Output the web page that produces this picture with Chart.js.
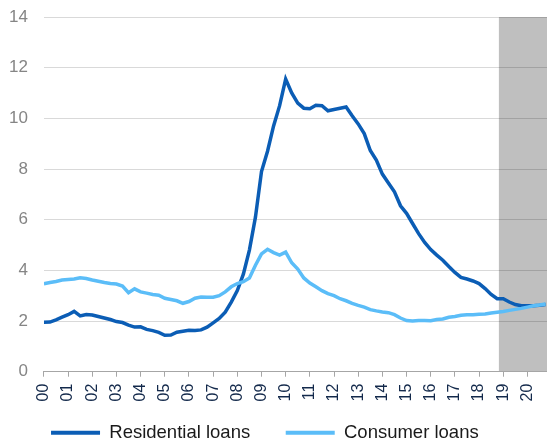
<!DOCTYPE html>
<html>
<head>
<meta charset="utf-8">
<script src="https://cdn.jsdelivr.net/npm/chart.js@4"></script>
<style>
  html, body { margin: 0; padding: 0; background: #fff; }
  #wrap { width: 547px; height: 445px; }
</style>
</head>
<body>
<div id="wrap"><canvas id="loansChart" width="547" height="445"></canvas></div>
<script>
    // quarterly, 2000Q1 onwards
    const startYear = 2000;
    const residentialLoans = [
      1.95, 1.96, 2.05, 2.15, 2.25, 2.38, 2.20, 2.26, 2.24, 2.18,
      2.12, 2.06, 1.98, 1.94, 1.84, 1.76, 1.77, 1.67, 1.62, 1.55,
      1.44, 1.45, 1.56, 1.60, 1.64, 1.63, 1.65, 1.76, 1.93, 2.10,
      2.35, 2.75, 3.20, 3.85, 4.80, 6.10, 7.90, 8.70, 9.70, 10.50,
      11.55, 11.00, 10.60, 10.40, 10.38, 10.52, 10.50, 10.30, 10.35, 10.40,
      10.45, 10.10, 9.78, 9.40, 8.73, 8.35, 7.80, 7.45, 7.10, 6.55,
      6.25, 5.85, 5.45, 5.10, 4.82, 4.60, 4.40, 4.15, 3.92, 3.72,
      3.66, 3.58, 3.48, 3.28, 3.05, 2.88, 2.88, 2.75, 2.65, 2.60,
      2.60, 2.60, 2.62, 2.65
    ];
    const consumerLoans = [
      3.47, 3.52, 3.56, 3.62, 3.64, 3.66, 3.71, 3.68, 3.62, 3.57,
      3.52, 3.48, 3.46, 3.38, 3.12, 3.27, 3.15, 3.10, 3.05, 3.02,
      2.90, 2.85, 2.80, 2.70, 2.77, 2.90, 2.95, 2.94, 2.94, 3.00,
      3.15, 3.35, 3.48, 3.55, 3.70, 4.20, 4.65, 4.83, 4.70, 4.60,
      4.72, 4.30, 4.05, 3.70, 3.50, 3.35, 3.20, 3.08, 3.00, 2.88,
      2.80, 2.70, 2.62, 2.55, 2.45, 2.40, 2.36, 2.33, 2.25, 2.12,
      2.02, 2.00, 2.02, 2.02, 2.01, 2.06, 2.08, 2.15, 2.18, 2.23,
      2.25, 2.25, 2.27, 2.28, 2.32, 2.35, 2.38, 2.42, 2.46, 2.50,
      2.55, 2.60, 2.63, 2.67
    ];
    const yearLabels = ['00', '01', '02', '03', '04', '05', '06', '07', '08', '09', '10',
      '11', '12', '13', '14', '15', '16', '17', '18', '19', '20'];
    const seriesNames = ['Residential loans', 'Consumer loans'];
    const forecastStart = 2018.82;
    const axisEnd = 2020.81;

    const quarters = residentialLoans.map((_, i) => startYear + i / 4);
    const toPoints = vals => vals.map((v, i) => ({ x: quarters[i], y: v }));

    // grey band for the forecast period, behind grid and lines
    const forecastBand = {
      id: 'forecastBand',
      beforeDraw(chart) {
        const { ctx, chartArea, scales } = chart;
        const x0 = scales.x.getPixelForValue(forecastStart);
        const y0 = scales.y.getPixelForValue(14);
        const y1 = scales.y.getPixelForValue(0);
        ctx.save();
        ctx.fillStyle = '#bfbfbf';
        ctx.fillRect(x0, y0, chartArea.right - x0, y1 - y0);
        ctx.restore();
      }
    };

    // trailing spaces just widen the legend items to space them like the original
    const legendPad = ['    ', '  '];

    new Chart(document.getElementById('loansChart').getContext('2d'), {
      type: 'line',
      data: {
        datasets: [
          {
            label: seriesNames[0],
            data: toPoints(residentialLoans),
            borderColor: '#0b5db5',
            backgroundColor: '#0b5db5',
            borderWidth: 3.5,
            pointRadius: 0,
            tension: 0,
            order: 1
          },
          {
            label: seriesNames[1],
            data: toPoints(consumerLoans),
            borderColor: '#5bbdf8',
            backgroundColor: '#5bbdf8',
            borderWidth: 3.5,
            pointRadius: 0,
            tension: 0,
            order: 0
          }
        ]
      },
      options: {
        responsive: false,
        animation: false,
        layout: { padding: { left: -7, top: 0, right: 0, bottom: -7 } },
        scales: {
          x: {
            type: 'linear',
            min: startYear,
            max: axisEnd,
            afterFit(scale) {
              // rotated labels should not push the plot in from the sides
              scale.paddingLeft = 0;
              scale.paddingRight = 0;
            },
            grid: { drawOnChartArea: false, tickLength: 5, tickColor: '#a6a6a6' },
            border: { color: '#a6a6a6', width: 1 },
            ticks: {
              stepSize: 1,
              includeBounds: false,
              autoSkip: false,
              minRotation: 90,
              maxRotation: 90,
              padding: 7,
              color: '#13294b',
              font: { family: 'Liberation Sans', size: 16 },
              callback: v => yearLabels[v - startYear]
            }
          },
          y: {
            min: 0,
            max: 14,
            afterFit(scale) {
              scale.paddingTop = 17;
            },
            grid: { color: 'rgba(0,0,0,0.15)', drawTicks: false },
            border: { display: false },
            ticks: {
              stepSize: 2,
              padding: 16,
              color: '#858585',
              font: { family: 'Liberation Sans', size: 17 }
            }
          }
        },
        plugins: {
          legend: {
            display: true,
            position: 'bottom',
            labels: {
              boxWidth: 49,
              boxHeight: 4,
              padding: 15,
              color: '#1a1a1a',
              font: { family: 'Liberation Sans', size: 18.5 },
              generateLabels: chart => chart.data.datasets.map((ds, i) => ({
                text: ds.label + legendPad[i],
                fillStyle: ds.borderColor,
                strokeStyle: ds.borderColor,
                lineWidth: 0,
                hidden: false,
                datasetIndex: i,
                fontColor: '#1a1a1a'
              }))
            }
          },
          tooltip: { enabled: false }
        }
      },
      plugins: [forecastBand]
    });
</script>
</body>
</html>
